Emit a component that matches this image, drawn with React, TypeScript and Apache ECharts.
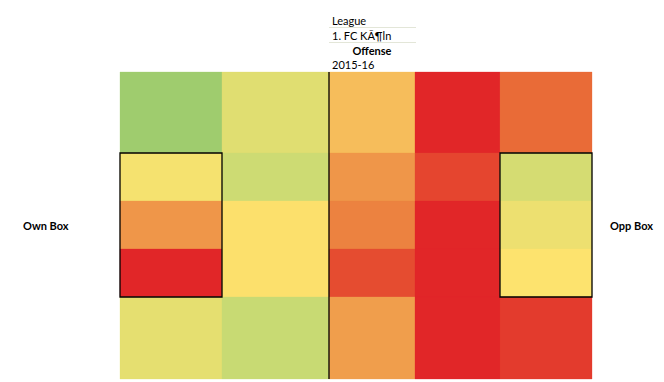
import React, { useEffect, useRef } from "react";
import * as echarts from "echarts";

// Zone boundaries (pitch split into uneven zones), left→right and top→bottom
const xEdges = [0, 102, 209, 295, 380, 472];
const yEdges = [0, 81, 129, 177, 225, 307];

// Zone values (rows top→bottom, columns left→right), higher = greener
const row1 = [100, 71, 49, 0, 20];
const row2 = [63, 78, 37, 9, 75];
const row3 = [37, 59, 29, 0, 66];
const row4 = [0, 59, 11, 0, 60];
const row5 = [69, 80, 40, 0, 6];
const zoneValues = [row1, row2, row3, row4, row5];

const headerLines = ["League", "1. FC KÃ¶ln", "Offense", "2015-16"];
const leftLabel = "Own Box";
const rightLabel = "Opp Box";
const halfwayX = xEdges[2];

export default function App() {
  const ref = useRef<HTMLDivElement>(null);

  useEffect(() => {
    if (!ref.current) return;
    const chart = echarts.init(ref.current, undefined, { renderer: "svg" });

    const cells: number[][] = [];
    zoneValues.forEach((row, r) => {
      row.forEach((v, c) => {
        cells.push([xEdges[c], xEdges[c + 1], yEdges[r], yEdges[r + 1], v]);
      });
    });
    const boxes = [
      [xEdges[0], xEdges[1], yEdges[1], yEdges[4]],
      [xEdges[4], xEdges[5], yEdges[1], yEdges[4]],
    ];

    const rectFrom = (api: any) => {
      const p0 = api.coord([api.value(0), api.value(2)]);
      const p1 = api.coord([api.value(1), api.value(3)]);
      return {
        x: Math.min(p0[0], p1[0]),
        y: Math.min(p0[1], p1[1]),
        width: Math.abs(p1[0] - p0[0]),
        height: Math.abs(p1[1] - p0[1]),
      };
    };

    const font = (bold: boolean) =>
      `${bold ? "bold " : ""}11px Lato, "Noto Sans", sans-serif`;

    chart.setOption({
      animation: false,
      grid: { left: 120, top: 72, width: 472, height: 307 },
      xAxis: { type: "value", min: xEdges[0], max: xEdges[5], show: false },
      yAxis: { type: "value", min: yEdges[0], max: yEdges[5], inverse: true, show: false },
      visualMap: {
        type: "continuous",
        show: false,
        min: 0,
        max: 100,
        dimension: 4,
        seriesIndex: 0,
        inRange: {
          color: ["#E12628", "#E96B37", "#F09E4C", "#FDE36E", "#C8DA73", "#9FCC6E"],
        },
      },
      series: [
        {
          type: "custom",
          data: cells,
          renderItem: (_p: any, api: any) => ({
            type: "rect",
            shape: rectFrom(api),
            style: { fill: api.visual("color"), stroke: api.visual("color"), lineWidth: 0.3 },
          }),
        },
        {
          type: "custom",
          z: 5,
          data: boxes,
          renderItem: (_p: any, api: any) => ({
            type: "rect",
            shape: rectFrom(api),
            style: { fill: "none", stroke: "#000", lineWidth: 1.3 },
          }),
        },
        {
          type: "custom",
          z: 5,
          data: [[halfwayX]],
          renderItem: (_p: any, api: any) => {
            const a = api.coord([api.value(0), yEdges[0]]);
            const b = api.coord([api.value(0), yEdges[5]]);
            return {
              type: "line",
              shape: { x1: a[0], y1: a[1], x2: b[0], y2: b[1] },
              style: { stroke: "#000", lineWidth: 1.3 },
            };
          },
        },
      ],
      graphic: [
        { type: "line", shape: { x1: 329, y1: 27.5, x2: 416, y2: 27.5 }, style: { stroke: "#E3E6D8", lineWidth: 1 } },
        { type: "line", shape: { x1: 329, y1: 42.5, x2: 416, y2: 42.5 }, style: { stroke: "#E3E6D8", lineWidth: 1 } },
        { type: "text", x: 332, y: 20, style: { text: headerLines[0], font: font(false), fill: "#000", align: "left", verticalAlign: "middle" } },
        { type: "text", x: 332, y: 35, style: { text: headerLines[1], font: font(false), fill: "#000", align: "left", verticalAlign: "middle" } },
        { type: "text", x: 372, y: 50, style: { text: headerLines[2], font: font(true), fill: "#000", align: "center", verticalAlign: "middle" } },
        { type: "text", x: 332, y: 64, style: { text: headerLines[3], font: font(false), fill: "#000", align: "left", verticalAlign: "middle" } },
        { type: "text", x: 23, y: 225, style: { text: leftLabel, font: font(true), fill: "#000", align: "left", verticalAlign: "middle" } },
        { type: "text", x: 610, y: 225, style: { text: rightLabel, font: font(true), fill: "#000", align: "left", verticalAlign: "middle" } },
      ],
    });

    return () => chart.dispose();
  }, []);

  return (
    <div
      ref={ref}
      style={{ position: "fixed", left: 0, top: 0, width: 664, height: 382, background: "#fff" }}
    />
  );
}
